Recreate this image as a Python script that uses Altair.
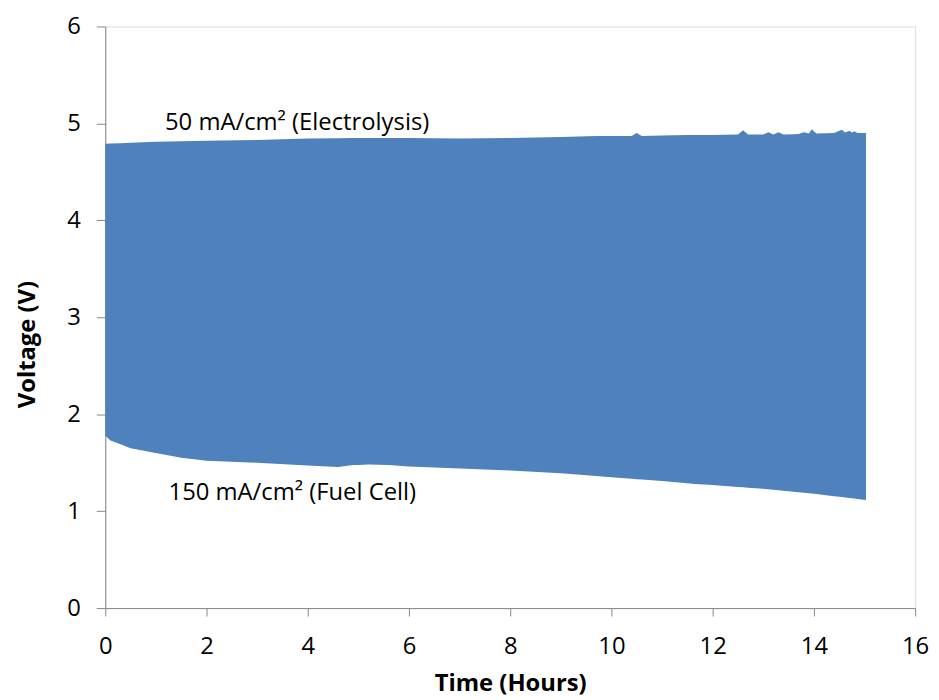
import altair as alt
import pandas as pd
import numpy as np

# Envelope of the cycling voltage
upper_t = [0, 0.5, 1, 2, 3, 4, 5, 6, 7, 8, 9, 9.7, 10, 10.4, 10.5, 10.6, 11, 11.5, 12, 12.5, 12.6, 12.7, 13.0, 13.1, 13.2, 13.3, 13.4, 13.7, 13.8, 13.9, 13.96, 14.05, 14.4, 14.55, 14.62, 14.7, 14.75, 14.8, 14.86, 15.03]
upper_v = [4.79, 4.80, 4.81, 4.82, 4.83, 4.845, 4.85, 4.85, 4.845, 4.85, 4.86, 4.87, 4.87, 4.87, 4.90, 4.87, 4.875, 4.88, 4.88, 4.885, 4.93, 4.885, 4.885, 4.91, 4.885, 4.91, 4.885, 4.89, 4.91, 4.895, 4.94, 4.895, 4.90, 4.935, 4.905, 4.925, 4.905, 4.92, 4.90, 4.90]
lower_t = [0, 0.1, 0.3, 0.5, 1, 1.5, 2, 3, 4, 4.6, 4.9, 5.2, 5.6, 6, 7, 8, 9, 10, 11, 11.65, 12, 13, 13.6, 14, 15.03]
lower_v = [1.78, 1.73, 1.69, 1.65, 1.60, 1.55, 1.52, 1.50, 1.47, 1.455, 1.475, 1.48, 1.475, 1.46, 1.44, 1.42, 1.39, 1.35, 1.31, 1.28, 1.27, 1.23, 1.20, 1.18, 1.115]

label_text = ["50 mA/cm\u00b2 (Electrolysis)", "150 mA/cm\u00b2 (Fuel Cell)"]
label_t = [1.18, 1.25]
label_v = [5.0, 1.19]

x_ticks = [0, 2, 4, 6, 8, 10, 12, 14, 16]
y_ticks = [0, 1, 2, 3, 4, 5, 6]

# combined table: band between the two envelopes over the union of read times
times = sorted(set(upper_t) | set(lower_t))
area = pd.DataFrame({
    "t": times,
    "hi": np.interp(times, upper_t, upper_v),
    "lo": np.interp(times, lower_t, lower_v),
})
labels = pd.DataFrame({"t": label_t, "v": label_v, "text": label_text})

FONT = "Open Sans"
GRAY = "#868686"

x = alt.X("t:Q", title="Time (Hours)",
          scale=alt.Scale(domain=[0, 16], nice=False),
          axis=alt.Axis(values=x_ticks, format="d", grid=False, domainColor=GRAY,
                        tickColor=GRAY, tickSize=8, labelPadding=19, labelFontSize=24,
                        labelColor="black", labelFont=FONT, titleFont=FONT,
                        titleFontSize=24, titleFontWeight="bold", titleColor="black",
                        titlePadding=13, labelFlush=False))
y = alt.Y("hi:Q", title="Voltage (V)",
          scale=alt.Scale(domain=[0, 6], nice=False),
          axis=alt.Axis(values=y_ticks, format="d", grid=False, domainColor=GRAY,
                        tickColor=GRAY, tickSize=9, labelPadding=16, labelFontSize=24,
                        labelColor="black", labelFont=FONT, titleFont=FONT,
                        titleFontSize=24, titleFontWeight="bold", titleColor="black",
                        titlePadding=28, titleY=320, labelFlush=False))

band = alt.Chart(area).mark_area(color="#4F81BD", opacity=1, interpolate="linear").encode(
    x=x, y=y, y2="lo:Q")

text = alt.Chart(labels).mark_text(align="left", baseline="middle", font=FONT,
                                   fontSize=24, color="black").encode(
    x=alt.X("t:Q"), y=alt.Y("v:Q"), text="text:N")

chart = alt.layer(band, text).properties(
    width=816, height=586,
    autosize=alt.AutoSizeParams(type="none"),
    padding={"left": 98, "top": 16, "right": 16, "bottom": 90},
).configure_view(stroke=GRAY, strokeWidth=1).configure(background="white")

chart.save("out.html", embed_options={"renderer": "svg", "actions": False})
